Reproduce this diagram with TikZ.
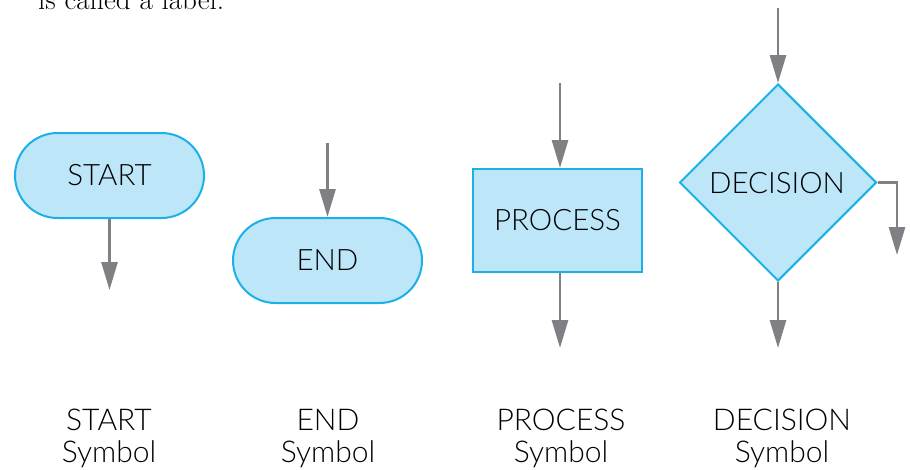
\documentclass[tikz,border=0pt]{standalone}
\usepackage{fontspec}
\IfFontExistsTF{Lato Light}{\setmainfont{Lato Light}}{\setmainfont{Lato}}
\newfontfamily\serifcut{Latin Modern Roman}
\usetikzlibrary{arrows.meta,shapes.geometric,shapes.misc}
\definecolor{boxfill}{HTML}{BDE6F9}
\definecolor{boxline}{HTML}{1CB0E8}
\definecolor{arrowgray}{HTML}{7F7F84}
\tikzset{
  sym/.style={draw=boxline, fill=boxfill, line width=2pt, font=\fontsize{29.5}{33}\selectfont, text=black, inner sep=0pt},
  stadium/.style={sym, rounded rectangle, minimum width=189pt, minimum height=85pt},
  procbox/.style={sym, rectangle, minimum width=169pt, minimum height=103pt},
  decbox/.style={sym, diamond, minimum width=197pt, minimum height=197pt, aspect=1},
  flow/.style={draw=arrowgray, line width=2.8pt, -{Triangle[length=28pt, width=16pt]}},
  caption/.style={align=center, font=\fontsize{30}{32}\selectfont, text=black}
}
\begin{document}
\begin{tikzpicture}[x=1pt,y=-1pt]
\useasboundingbox (0,0) rectangle (910,469);
\node[anchor=base west, font=\serifcut\fontsize{29}{32}\selectfont, inner sep=0pt] (cut) at (38,9) {is called a label.};

\node[stadium] (start) at (109.5,175.5) {START};
\coordinate (startout) at (109.5,290);
\draw[flow] (start.south) -- (startout);

\node[stadium] (end) at (327.5,260.5) {END};
\coordinate (endin) at (327.5,143);
\draw[flow] (endin) -- (end.north);

\node[procbox] (proc) at (557.5,220.5) {PROCESS};
\coordinate (procin) at (560,83);
\coordinate (procout) at (560,348);
\draw[flow] (procin) -- (proc.north -| procin);
\draw[flow] (proc.south -| procout) -- (procout);

\node[decbox] (dec) at (778,182.5) {};
\node[font=\fontsize{29.5}{33}\selectfont] (dectext) at (777,183) {DECISION};
\coordinate (decin) at (778,8);
\coordinate (decout) at (778,348);
\coordinate (decright) at (897,255);
\draw[flow] (decin) -- (dec.north);
\draw[flow] (dec.south) -- (decout);
\draw[flow] (dec.east) -| (decright);

\node[caption] (c1) at (109,438.5) {START\\Symbol};
\node[caption] (c2) at (328,438.5) {END\\Symbol};
\node[caption] (c3) at (561,438.5) {PROCESS\\Symbol};
\node[caption] (c4) at (782,438.5) {DECISION\\Symbol};
\end{tikzpicture}
\end{document}
